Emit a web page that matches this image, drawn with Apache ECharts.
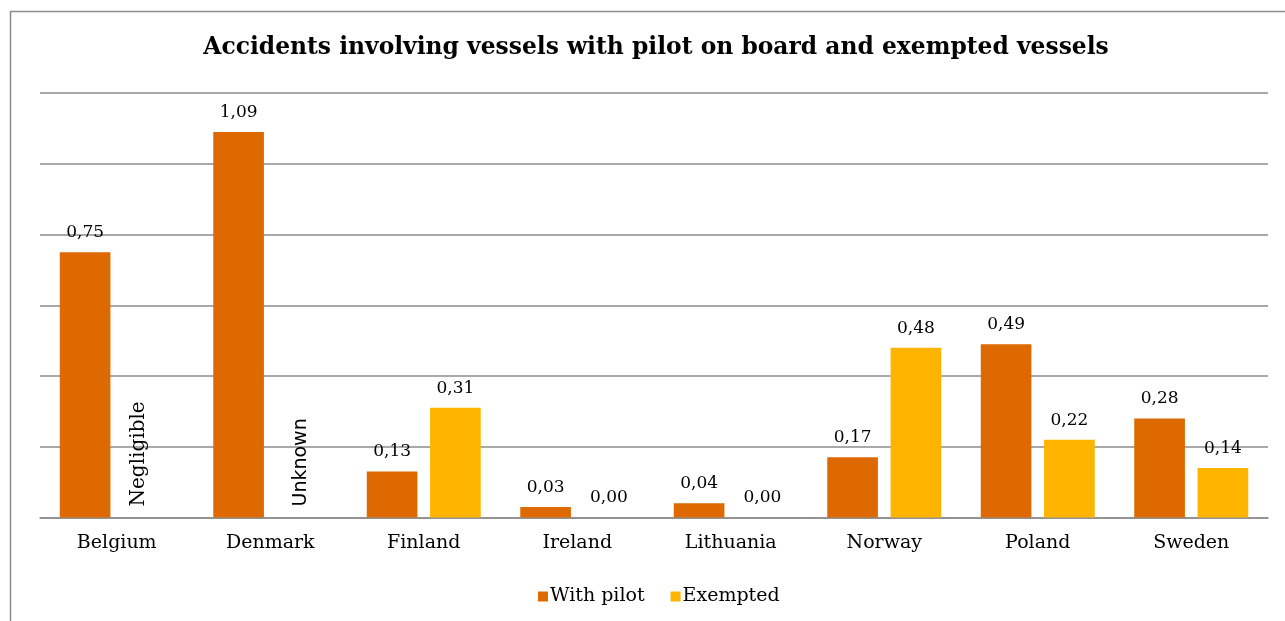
<!DOCTYPE html>
<html>
<head>
<meta charset="utf-8">
<title>Accidents involving vessels with pilot on board and exempted vessels</title>
<script src="https://cdn.jsdelivr.net/npm/echarts@6/dist/echarts.min.js"></script>
<style>
  html, body { margin: 0; padding: 0; background: #ffffff; }
  #chart { width: 1285px; height: 621px; }
</style>
</head>
<body>
<div id="chart"></div>
<script>
// Accident rates per country, split by vessels with a pilot on board and exempted vessels
const countries = ['Belgium', 'Denmark', 'Finland', 'Ireland', 'Lithuania', 'Norway', 'Poland', 'Sweden'];
const withPilot = [0.75, 1.09, 0.13, 0.03, 0.04, 0.17, 0.49, 0.28];
// null where no figure is available; the note is written in its place
const exempted = [null, null, 0.31, 0.00, 0.00, 0.48, 0.22, 0.14];
const exemptedNotes = ['Negligible', 'Unknown', null, null, null, null, null, null];

const SERIF = "'DejaVu Serif', Georgia, serif";
const SANS = "'DejaVu Sans', Verdana, sans-serif";
const fmt = v => v.toFixed(2).replace('.', ',');

// per-note text style
const noteStyle = {
  Negligible: { fontFamily: SERIF, fontSize: 20, offset: [0, -10] },
  Unknown: { fontFamily: SANS, fontSize: 19, offset: [0, -1] }
};

const exemptedData = exempted.map((v, i) => {
  if (v !== null) return v;
  const st = noteStyle[exemptedNotes[i]];
  return {
    value: 0,
    label: {
      show: true,
      formatter: exemptedNotes[i],
      rotate: 90,
      position: 'top',
      align: 'left',
      verticalAlign: 'middle',
      distance: 11,
      offset: st.offset,
      fontFamily: st.fontFamily,
      fontSize: st.fontSize,
      color: '#000'
    }
  };
});

const chart = echarts.init(document.getElementById('chart'), null, { renderer: 'canvas' });
chart.setOption({
  backgroundColor: '#ffffff',
  animation: false,
  graphic: [{
    type: 'rect',
    shape: { x: 10.5, y: 11.5, width: 1400, height: 700 },
    style: { fill: 'none', stroke: '#8c8c8c', lineWidth: 1.5 },
    silent: true,
    z: -1
  }],
  title: {
    text: 'Accidents involving vessels with pilot on board and exempted vessels',
    left: 651,
    textAlign: 'center',
    top: 31,
    textStyle: { fontFamily: SERIF, fontWeight: 'bold', fontSize: 23.4, color: '#000' }
  },
  legend: {
    data: ['With pilot', 'Exempted'],
    left: 533,
    top: 582,
    itemWidth: 10,
    itemHeight: 10,
    itemGap: 26,
    icon: 'rect',
    textStyle: { fontFamily: SERIF, fontSize: 19, color: '#000', padding: [0, 0, 0, -3] }
  },
  grid: { left: 40, right: 17, top: 93, bottom: 103.5, containLabel: false },
  xAxis: {
    type: 'category',
    data: countries,
    axisTick: { show: false },
    axisLine: { lineStyle: { color: '#8c8c8c', width: 1.5 } },
    axisLabel: { fontFamily: SERIF, fontSize: 19, color: '#000', margin: 16 }
  },
  yAxis: {
    type: 'value',
    min: 0,
    max: 1.2,
    interval: 0.2,
    axisLabel: { show: false },
    axisLine: { show: false },
    axisTick: { show: false },
    splitLine: { lineStyle: { color: '#8c8c8c', width: 1.5 } }
  },
  series: [
    {
      name: 'With pilot',
      type: 'bar',
      data: withPilot,
      barWidth: '33%',
      barGap: '25%',
      itemStyle: { color: '#DD6900' },
      label: {
        show: true, position: 'top', distance: 11,
        formatter: p => fmt(p.value),
        fontFamily: SERIF, fontSize: 17, color: '#000'
      }
    },
    {
      name: 'Exempted',
      type: 'bar',
      data: exemptedData,
      barWidth: '33%',
      barGap: '25%',
      itemStyle: { color: '#FFB400' },
      label: {
        show: true, position: 'top', distance: 11,
        formatter: p => fmt(p.value),
        fontFamily: SERIF, fontSize: 17, color: '#000'
      }
    }
  ]
});
</script>
</body>
</html>
